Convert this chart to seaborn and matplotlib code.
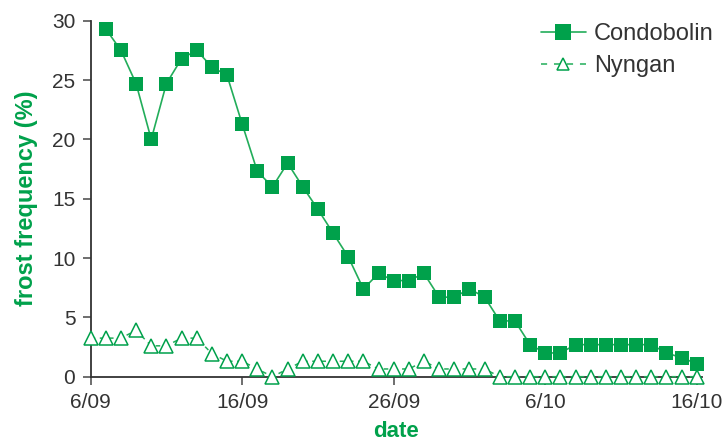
import pandas as pd
import seaborn as sns
import matplotlib.pyplot as plt
import matplotlib.dates as mdates
from matplotlib.lines import Line2D
from matplotlib.ticker import FuncFormatter

# daily frost frequency (%), 6 Sep to 16 Oct
nyngan_dates = pd.date_range("2020-09-06", "2020-10-16", freq="D")
condo_dates = pd.date_range("2020-09-07", "2020-10-16", freq="D")

condobolin = [29.3, 27.5, 24.7, 20.0, 24.7, 26.8, 27.5, 26.1, 25.4, 21.3,
              17.3, 16.0, 18.0, 16.0, 14.1, 12.1, 10.1, 7.4, 8.7, 8.1,
              8.1, 8.7, 6.7, 6.7, 7.4, 6.7, 4.7, 4.7, 2.7, 2.0,
              2.0, 2.7, 2.7, 2.7, 2.7, 2.7, 2.7, 2.0, 1.6, 1.1]
nyngan = [3.25, 3.25, 3.25, 3.9, 2.6, 2.6, 3.25, 3.25, 1.95, 1.3,
          1.3, 0.65, 0.0, 0.65, 1.3, 1.3, 1.3, 1.3, 1.3, 0.65,
          0.65, 0.65, 1.3, 0.65, 0.65, 0.65, 0.65, 0.0, 0.0, 0.0,
          0.0, 0.0, 0.0, 0.0, 0.0, 0.0, 0.0, 0.0, 0.0, 0.0, 0.0]
tick_dates = pd.to_datetime(["2020-09-06", "2020-09-16", "2020-09-26",
                             "2020-10-06", "2020-10-16"])

green = "#00a14b"
line_green = "#22ad5a"
text_grey = "#333333"

sns.set_style("ticks")
plt.rcParams["font.family"] = ["Liberation Sans", "DejaVu Sans"]

fig = plt.figure(figsize=(7.25, 4.43), dpi=100)
ax = fig.add_axes([0.125, 0.1497, 0.843, 0.8036])

sns.lineplot(x=condo_dates, y=condobolin, ax=ax, color=line_green, lw=1.2,
             marker="s", markersize=9.5, markerfacecolor=green,
             markeredgecolor=green, markeredgewidth=0, clip_on=False, zorder=3)
sns.lineplot(x=nyngan_dates, y=nyngan, ax=ax, color=line_green, lw=1.1,
             linestyle=(0, (3, 3)), marker="^", markersize=9.5,
             markerfacecolor="white", markeredgecolor=green,
             markeredgewidth=1.1, clip_on=False, zorder=3)

ax.set_ylim(0, 30)
ax.set_yticks([0, 5, 10, 15, 20, 25, 30])
ax.set_xlim(nyngan_dates[0], nyngan_dates[-1] + pd.Timedelta(hours=8))
ax.set_xticks(tick_dates)
ax.xaxis.set_major_formatter(FuncFormatter(
    lambda v, pos: "{}/{:02d}".format(mdates.num2date(v).day, mdates.num2date(v).month)))

ax.set_ylabel("frost frequency (%)", color=green, fontsize=17, fontweight="bold",
              labelpad=10)
ax.set_xlabel("date", color=green, fontsize=16, fontweight="bold", labelpad=6)

for side in ["top", "right"]:
    ax.spines[side].set_visible(False)
for side in ["left", "bottom"]:
    ax.spines[side].set_color(text_grey)
    ax.spines[side].set_linewidth(1.3)
ax.tick_params(axis="both", labelsize=15, colors="#555555", labelcolor=text_grey,
               length=6, width=1.2)
ax.tick_params(axis="y", pad=5)
ax.tick_params(axis="x", pad=6)

handles = [
    Line2D([], [], color=line_green, lw=1.2, marker="s", markersize=12,
           markerfacecolor=green, markeredgewidth=0),
    Line2D([], [], color=line_green, lw=1.1, linestyle=(0, (4, 4.5)), marker="^",
           markersize=8, markerfacecolor="white", markeredgecolor=green,
           markeredgewidth=1.1),
]
fig.legend(handles, ["Condobolin", "Nyngan"], loc="upper right",
           bbox_to_anchor=(1.014, 0.995), frameon=False, fontsize=17,
           handlelength=1.9, handletextpad=0.35, labelspacing=0.4,
           labelcolor=text_grey)

fig.savefig("out.png", dpi=100)
